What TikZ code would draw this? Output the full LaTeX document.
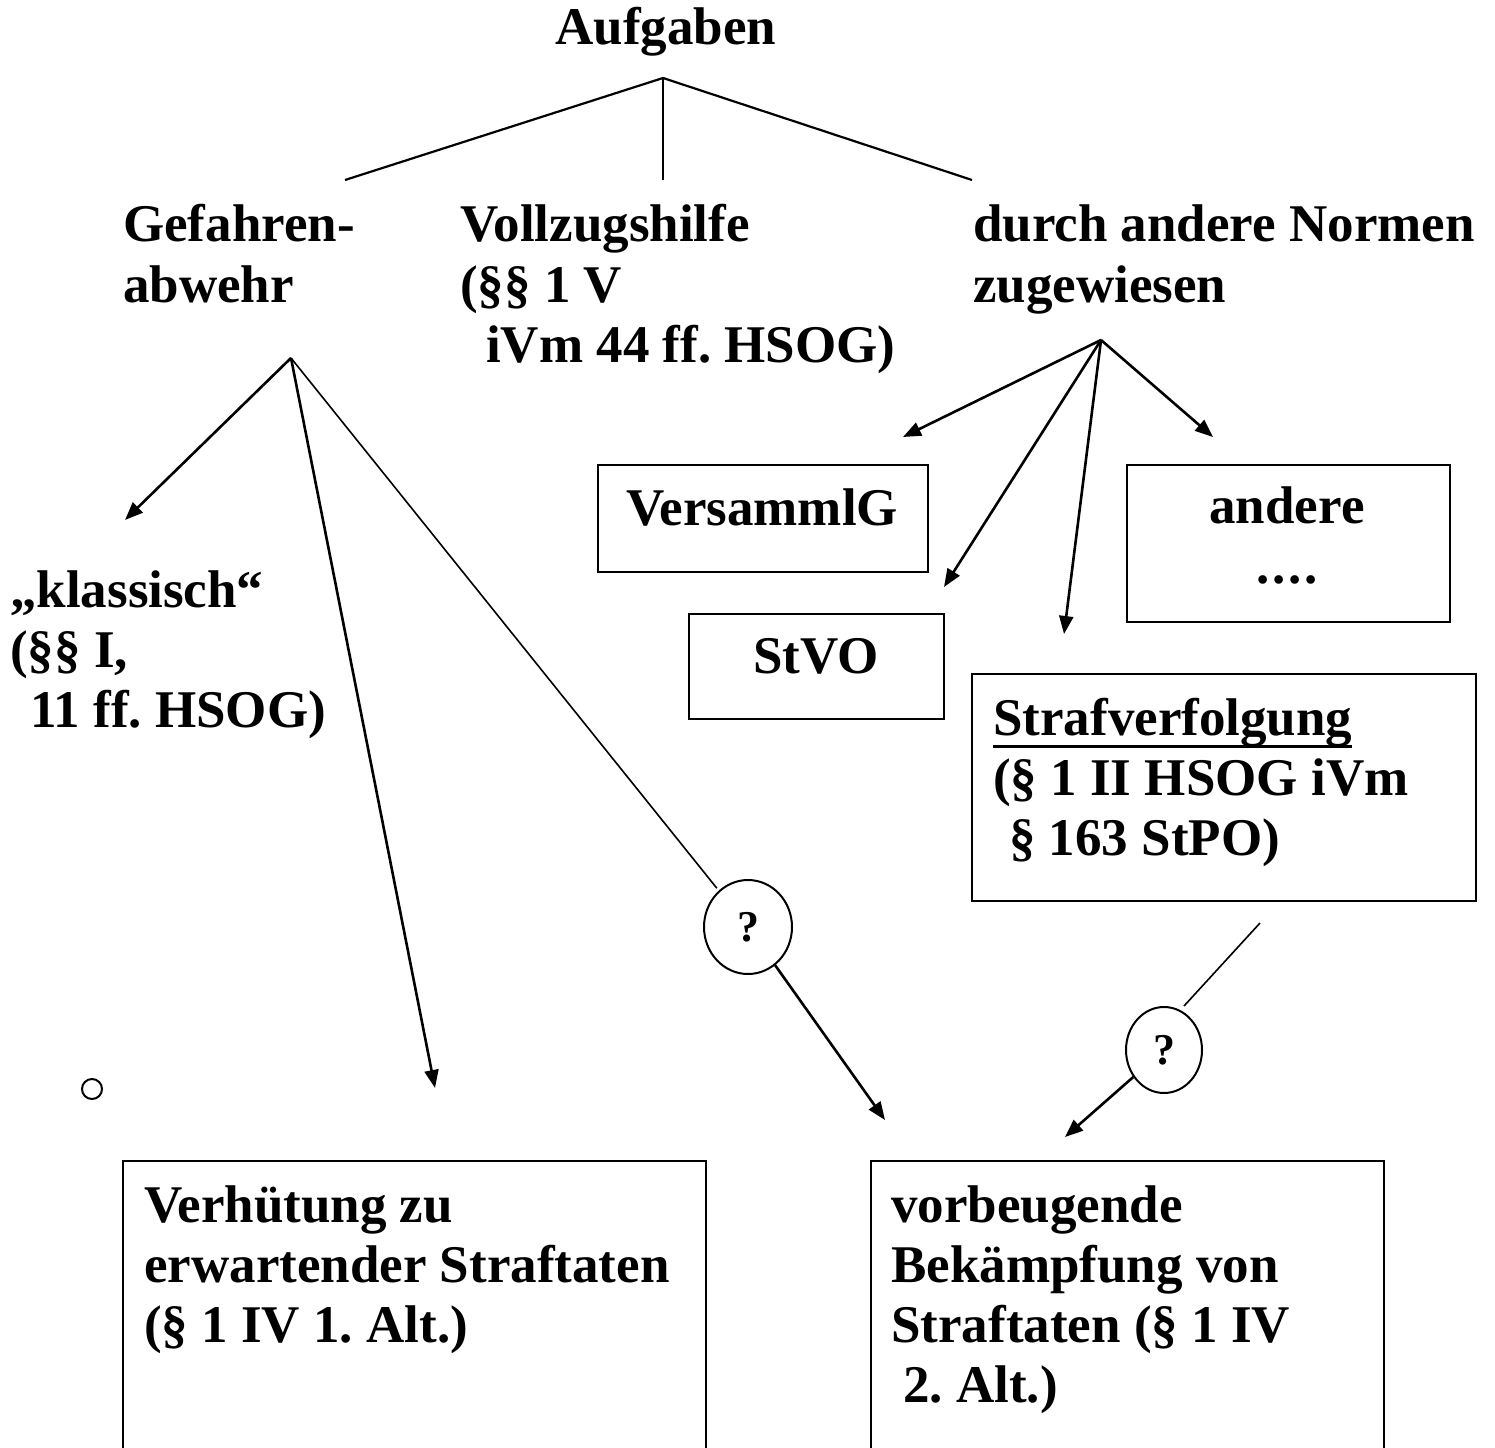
\documentclass[tikz,border=0pt]{standalone}
\usepackage{fontspec}
\setmainfont{Liberation Serif}
\usetikzlibrary{arrows.meta,shapes.geometric}
\frenchspacing
\newcommand\bigfont{\fontsize{53}{60}\selectfont\bfseries}
\newcommand\qfont{\fontsize{44}{50}\selectfont\bfseries}
\newcommand\mlines[1]{\begin{tabular}[t]{@{}l@{}}#1\end{tabular}}
\newcommand\mlinesc[1]{\begin{tabular}[t]{@{}c@{}}#1\end{tabular}}
\newcommand\ulbar[1]{\setbox0\hbox{#1}\rlap{\rule[-13pt]{\wd0}{3pt}}\box0}
\begin{document}
\begin{tikzpicture}[x=1pt,y=-1pt,
  txt/.style={inner sep=0pt, anchor=base west, font=\bigfont},
  ctxt/.style={inner sep=0pt, anchor=base, font=\bigfont},
  boxr/.style={draw, line width=2.2pt, inner sep=0pt, anchor=north west},
  ln/.style={line width=2.2pt},
  thinln/.style={line width=1.6pt},
  arr/.style={line width=2.6pt, -{Triangle[length=18pt,width=14pt]}},
  qcirc/.style={draw, line width=2pt, ellipse, inner sep=0pt, font=\qfont}]
\useasboundingbox (0,0) rectangle (1495,1447);
\clip (0,0) rectangle (1495,1447);

% title and top tree
\node[ctxt] (title) at (666,45) {Aufgaben};
\coordinate (ap) at (663,78);
\coordinate (apl) at (345,180);
\coordinate (apm) at (663,180);
\coordinate (apr) at (972,180);
\draw[ln] (apl) -- (ap) -- (apr);
\draw[ln] (ap) -- (apm);

% second level labels
\node[txt] (gef) at (123,242) {\mlines{Gefahren-\\abwehr}};
\node[txt] (voll) at (460,242) {\mlines{Vollzugshilfe\\(§§ 1 V\\\hspace*{26pt}iVm 44 ff. HSOG)}};
\node[txt] (durch) at (973,242) {\mlines{durch andere Normen\\zugewiesen}};

% Gefahrenabwehr branches
\coordinate (g0) at (291,358);
\coordinate (gk) at (125,520);
\coordinate (gv) at (435,1088);
\node[txt] (klass) at (10,607) {\mlines{„klassisch“\\(§§ I,\\\hspace*{20pt}11 ff. HSOG)}};
\draw[arr] (g0) -- (gk);
\draw[arr] (g0) -- (gv);
\node[qcirc, minimum width=88pt, minimum height=94pt] (q1) at (748,927) {?};
\draw[thinln, shorten >=3pt] (g0) -- (q1);
\coordinate (t1) at (885,1120);
\draw[arr] (q1) -- (t1);

% durch andere Normen branches
\coordinate (d0) at (1101,340);
\coordinate (dv) at (903,437);
\coordinate (ds) at (944,587);
\coordinate (dst) at (1064,634);
\coordinate (da) at (1213,437);
\draw[arr] (d0) -- (dv);
\draw[arr] (d0) -- (ds);
\draw[arr] (d0) -- (dst);
\draw[arr] (d0) -- (da);

% boxes
\node[boxr, minimum width=330pt, minimum height=107pt] (vgbox) at (597,464) {};
\node[ctxt] (vg) at (762,525) {VersammlG};
\node[boxr, minimum width=255pt, minimum height=105pt] (stbox) at (688,613) {};
\node[ctxt] (stvo) at (816,673) {StVO};
\node[boxr, minimum width=323pt, minimum height=157pt] (anbox) at (1126,464) {};
\node[ctxt] (andere) at (1287,523) {\mlinesc{andere\\.\kern3pt.\kern3pt.\kern3pt.}};
\node[boxr, minimum width=504pt, minimum height=227pt] (sfbox) at (971,673) {};
\node[txt] (straf) at (993,735) {\mlines{\ulbar{Strafverfolgung}\\(§ 1 II HSOG iVm\\\hspace*{16pt}§ 163 StPO)}};

% Strafverfolgung -> ? -> vorbeugende
\coordinate (s0) at (1260,923);
\coordinate (s1) at (1184,1006);
\draw[thinln] (s0) -- (s1);
\node[qcirc, minimum width=76pt, minimum height=86pt] (q2) at (1164,1050) {?};
\coordinate (t2) at (1065,1137);
\draw[arr] (q2) -- (t2);

% small circle
\node[circle, draw, line width=2pt, minimum size=20pt, inner sep=0pt] (dot) at (92,1089) {};

% bottom boxes
\node[boxr, minimum width=583pt, minimum height=330pt] (vbbox) at (122,1160) {};
\node[txt] (verh) at (144,1222) {\mlines{Verhütung zu\\erwartender Straftaten\\(§ 1 IV 1. Alt.)}};
\node[boxr, minimum width=513pt, minimum height=330pt] (vobox) at (870,1160) {};
\node[txt] (vorb) at (891,1222) {\mlines{vorbeugende\\Bekämpfung von\\Straftaten (§ 1 IV\\\hspace*{12pt}2. Alt.)}};
\end{tikzpicture}
\end{document}
